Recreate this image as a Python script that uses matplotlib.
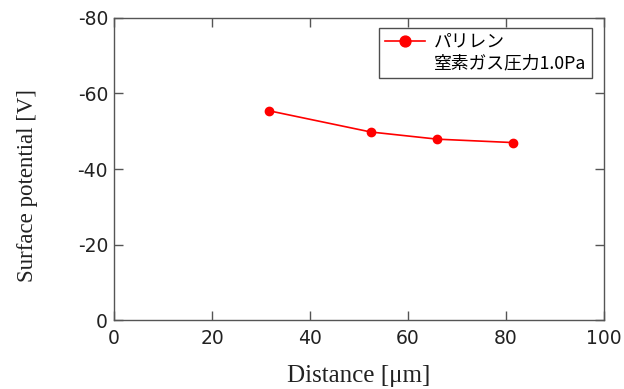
import matplotlib
matplotlib.use("Agg")
import matplotlib.pyplot as plt
from matplotlib.lines import Line2D

# values
distance = [31.7, 52.4, 66.0, 81.4]
potential = [-55.4, -49.8, -47.9, -47.0]
series_label = "パリレン"
condition_label = "窒素ガス圧力1.0Pa"
x_ticks = [0, 20, 40, 60, 80, 100]
y_ticks = [0, -20, -40, -60, -80]

plt.rcParams["axes.unicode_minus"] = False

fig = plt.figure(figsize=(6.24, 3.89), dpi=100)
ax = fig.add_axes([0.1827, 0.177, 0.7853, 0.777])

ax.plot(distance, potential, color="#ff0000", lw=1.2, marker="o",
        markersize=6, label=series_label)
# second legend row has no handle
ax.add_line(Line2D([], [], linestyle="none", marker="none", label=condition_label))

ax.set_xlim(0, 100)
ax.set_ylim(0, -80)
ax.set_xticks(x_ticks)
ax.set_yticks(y_ticks)

for s in ax.spines.values():
    s.set_color("#555555")
    s.set_linewidth(1.0)
ax.tick_params(direction="in", length=6.5, width=1.0, color="#555555",
               top=True, right=True, labelsize=13.5, labelcolor="#222222")
ax.tick_params(axis="x", pad=6.5)
ax.tick_params(axis="y", pad=4.3)

ax.set_xlabel("Distance [μm]", family="Liberation Serif", fontsize=18, color="#222222")
ax.set_ylabel("Surface potential [V]", family="Liberation Serif", fontsize=16.5, color="#222222")
ax.xaxis.set_label_coords(0.5, -0.15)
ax.yaxis.set_label_coords(-0.155, 0.444)

leg = ax.legend(loc="upper right", bbox_to_anchor=(0.9755, 0.968), borderaxespad=0,
                prop={"family": ["Noto Sans CJK JP", "DejaVu Sans"], "size": 12.8},
                frameon=True, fancybox=False, markerscale=1.3, handlelength=2.3,
                handletextpad=0.5, labelspacing=0.2, borderpad=0.3)
leg.get_frame().set_edgecolor("#222222")
leg.get_frame().set_linewidth(1.0)

fig.savefig("out.png", dpi=100)
